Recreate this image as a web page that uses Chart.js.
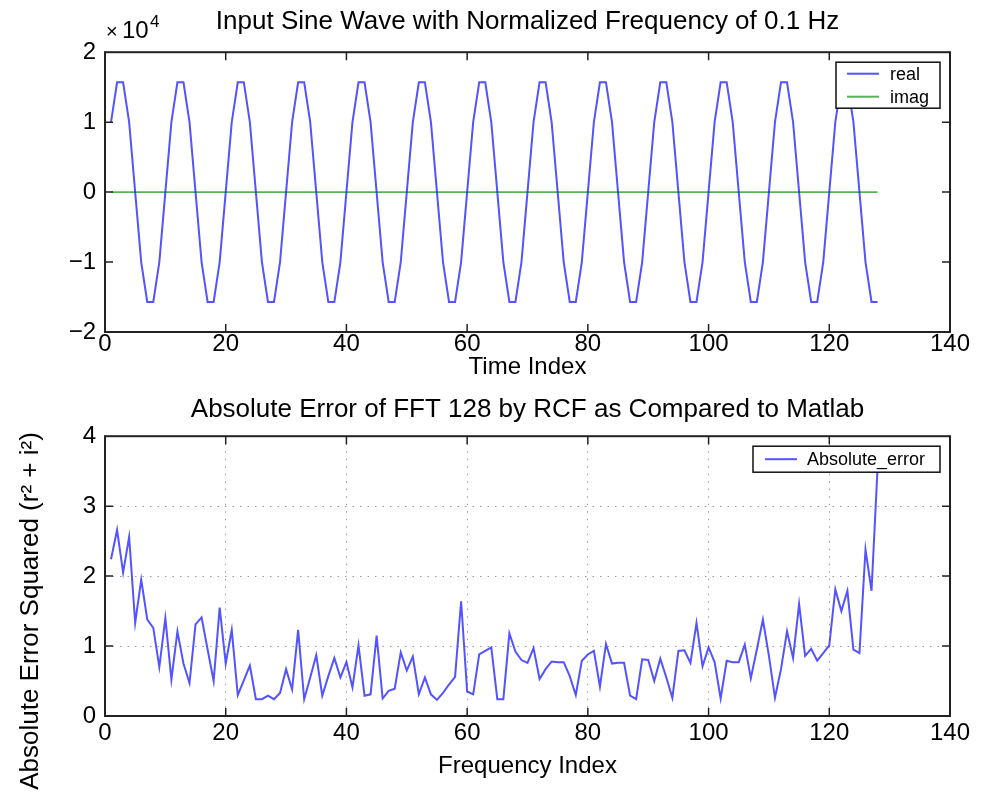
<!DOCTYPE html>
<html>
<head>
<meta charset="utf-8">
<script src="https://cdn.jsdelivr.net/npm/chart.js@4.4.1/dist/chart.umd.min.js"></script>
<style>
  html, body { margin: 0; padding: 0; background: #ffffff; }
  #top { position: absolute; left: 0; top: 0; width: 986px; height: 385px; }
  #bot { position: absolute; left: 0; top: 385px; width: 986px; height: 411px; }
</style>
</head>
<body>
<div id="top"><canvas id="c1"></canvas></div>
<div id="bot"><canvas id="c2"></canvas></div>
<script>
// ---------------- DATA ----------------
const topTitle = 'Input Sine Wave with Normalized Frequency of 0.1 Hz';
const topXLabel = 'Time Index';
const topSeriesNames = ['real', 'imag'];
const botTitle = 'Absolute Error of FFT 128 by RCF as Compared to Matlab';
const botXLabel = 'Frequency Index';
const botYLabel = 'Absolute Error Squared (r\u00B2 + i\u00B2)';
const botSeriesNames = ['Absolute_error'];
const xTicks = [0, 20, 40, 60, 80, 100, 120, 140];
const topYTicks = [-2, -1, 0, 1, 2];      // in units of 10^4
const botYTicks = [0, 1, 2, 3, 4];

// real part of input (time index 1..128)
const realPart = [
  10000, 15700, 15700, 10000, 0, -10000, -15700, -15700, -10000, 0,
  10000, 15700, 15700, 10000, 0, -10000, -15700, -15700, -10000, 0,
  10000, 15700, 15700, 10000, 0, -10000, -15700, -15700, -10000, 0,
  10000, 15700, 15700, 10000, 0, -10000, -15700, -15700, -10000, 0,
  10000, 15700, 15700, 10000, 0, -10000, -15700, -15700, -10000, 0,
  10000, 15700, 15700, 10000, 0, -10000, -15700, -15700, -10000, 0,
  10000, 15700, 15700, 10000, 0, -10000, -15700, -15700, -10000, 0,
  10000, 15700, 15700, 10000, 0, -10000, -15700, -15700, -10000, 0,
  10000, 15700, 15700, 10000, 0, -10000, -15700, -15700, -10000, 0,
  10000, 15700, 15700, 10000, 0, -10000, -15700, -15700, -10000, 0,
  10000, 15700, 15700, 10000, 0, -10000, -15700, -15700, -10000, 0,
  10000, 15700, 15700, 10000, 0, -10000, -15700, -15700, -10000, 0,
  10000, 15700, 15700, 10000, 0, -10000, -15700, -15700
];
// imaginary part of input (time index 1..128)
const imagPart = [
  0,0,0,0,0,0,0,0,0,0, 0,0,0,0,0,0,0,0,0,0, 0,0,0,0,0,0,0,0,0,0,
  0,0,0,0,0,0,0,0,0,0, 0,0,0,0,0,0,0,0,0,0, 0,0,0,0,0,0,0,0,0,0,
  0,0,0,0,0,0,0,0,0,0, 0,0,0,0,0,0,0,0,0,0, 0,0,0,0,0,0,0,0,0,0,
  0,0,0,0,0,0,0,0,0,0, 0,0,0,0,0,0,0,0,0,0, 0,0,0,0,0,0,0,0,0,0,
  0,0,0,0,0,0,0,0
];
// absolute error squared (frequency index 1..128)
const absError = [
  2.24, 2.66, 2.05, 2.56, 1.33, 1.95, 1.38, 1.26, 0.70, 1.40,
  0.52, 1.21, 0.75, 0.47, 1.31, 1.41, 0.95, 0.50, 1.55, 0.75,
  1.23, 0.30, 0.51, 0.72, 0.24, 0.24, 0.29, 0.24, 0.33, 0.67,
  0.38, 1.23, 0.24, 0.55, 0.87, 0.29, 0.57, 0.83, 0.55, 0.77,
  0.41, 1.01, 0.29, 0.31, 1.15, 0.25, 0.36, 0.39, 0.91, 0.65,
  0.85, 0.31, 0.55, 0.31, 0.23, 0.33, 0.45, 0.56, 1.64, 0.35,
  0.31, 0.88, 0.93, 0.98, 0.24, 0.24, 1.18, 0.92, 0.80, 0.76,
  0.97, 0.53, 0.67, 0.78, 0.77, 0.77, 0.57, 0.30, 0.79, 0.88,
  0.93, 0.42, 1.03, 0.75, 0.76, 0.76, 0.29, 0.24, 0.81, 0.80,
  0.50, 0.82, 0.55, 0.26, 0.93, 0.94, 0.76, 1.33, 0.71, 0.98,
  0.77, 0.25, 0.79, 0.77, 0.77, 1.02, 0.54, 0.95, 1.38, 0.86,
  0.26, 0.67, 1.21, 0.83, 1.60, 0.86, 0.96, 0.79, 0.90, 1.01,
  1.81, 1.50, 1.79, 0.95, 0.90, 2.38, 1.79, 3.55
];

// ---------------- STYLE / HELPERS ----------------
const FONT = '"Liberation Sans", Arial, Helvetica, sans-serif';
Chart.defaults.font.family = FONT;
Chart.defaults.color = '#000';

const BLUE = 'rgba(35,35,255,0.78)';
const GREEN = 'rgba(60,165,60,0.85)';

const toPoints = (arr) => arr.map((v, i) => ({ x: i + 1, y: v }));
const minusFmt = (n) => (n < 0 ? '\u2212' + Math.abs(n) : String(n));

const framePlugin = {
  id: 'frame',
  afterDraw(chart) {
    const { ctx, chartArea: a, scales: { x, y } } = chart;
    const L = 8;
    ctx.save();
    ctx.strokeStyle = '#222';
    ctx.lineWidth = 1.5;
    ctx.beginPath();
    x.ticks.forEach(t => {
      const p = x.getPixelForValue(t.value);
      if (p > a.left + 2 && p < a.right - 2) {
        ctx.moveTo(p, a.bottom); ctx.lineTo(p, a.bottom - L);
        ctx.moveTo(p, a.top); ctx.lineTo(p, a.top + L);
      }
    });
    y.ticks.forEach(t => {
      const p = y.getPixelForValue(t.value);
      if (p > a.top + 2 && p < a.bottom - 2) {
        ctx.moveTo(a.left, p); ctx.lineTo(a.left + L, p);
        ctx.moveTo(a.right, p); ctx.lineTo(a.right - L, p);
      }
    });
    ctx.stroke();
    ctx.lineWidth = 2;
    ctx.strokeRect(a.left, a.top, a.right - a.left, a.bottom - a.top);
    ctx.restore();
  }
};

const boxLegendPlugin = {
  id: 'boxLegend',
  afterDraw(chart, args, opts) {
    const { ctx, chartArea: a } = chart;
    const bx = a.right - opts.right - opts.width;
    const by = a.top + opts.top;
    ctx.save();
    ctx.fillStyle = '#fff';
    ctx.fillRect(bx, by, opts.width, opts.height);
    ctx.strokeStyle = '#111';
    ctx.lineWidth = 1.5;
    ctx.strokeRect(bx, by, opts.width, opts.height);
    ctx.font = opts.fontSize + 'px ' + FONT;
    ctx.textBaseline = 'middle';
    ctx.textAlign = 'left';
    chart.data.datasets.forEach((ds, i) => {
      const ry = by + opts.firstRow + i * opts.rowStep;
      ctx.strokeStyle = ds.borderColor;
      ctx.lineWidth = 2;
      ctx.beginPath();
      ctx.moveTo(bx + opts.lineStart, ry);
      ctx.lineTo(bx + opts.lineEnd, ry);
      ctx.stroke();
      ctx.fillStyle = '#000';
      ctx.fillText(ds.label, bx + opts.textX, ry + 1);
    });
    ctx.restore();
  }
};

const exponentPlugin = {
  id: 'exponent',
  afterDraw(chart) {
    const { ctx, chartArea: a } = chart;
    ctx.save();
    ctx.fillStyle = '#000';
    ctx.textBaseline = 'alphabetic';
    ctx.textAlign = 'left';
    ctx.font = '20px ' + FONT;
    ctx.fillText('\u00D7', a.left + 1, a.top - 14);
    ctx.font = '24px ' + FONT;
    ctx.fillText('10', a.left + 17, a.top - 14);
    ctx.font = '17px ' + FONT;
    ctx.fillText('4', a.left + 45, a.top - 25);
    ctx.restore();
  }
};

const yTitlePlugin = {
  id: 'yTitle',
  afterDraw(chart, args, opts) {
    const { ctx } = chart;
    ctx.save();
    ctx.translate(opts.x, opts.y);
    ctx.rotate(-Math.PI / 2);
    ctx.fillStyle = '#000';
    ctx.font = opts.size + 'px ' + FONT;
    ctx.textAlign = 'center';
    ctx.textBaseline = 'middle';
    ctx.fillText(opts.text, 0, 0);
    ctx.restore();
  }
};

function xScale(label, tickPad, titlePadBottom, height, grid) {
  return {
    type: 'linear',
    min: xTicks[0], max: xTicks[xTicks.length - 1],
    afterBuildTicks: (s) => { s.ticks = xTicks.map(v => ({ value: v })); },
    ticks: { font: { size: 24, lineHeight: 1 }, padding: tickPad, maxRotation: 0, autoSkip: false, color: '#000' },
    grid: grid ? { display: true, color: '#9a9a9a', lineWidth: 1, drawTicks: false } : { display: false, drawTicks: false },
    border: grid ? { display: false, dash: [1.5, 6] } : { display: false },
    title: { display: true, text: label, font: { size: 24, lineHeight: 1.2 }, color: '#000', padding: { top: 0, bottom: titlePadBottom } },
    afterFit: (s) => { s.height = height; }
  };
}

// ---------------- TOP CHART ----------------
new Chart(document.getElementById('c1'), {
  type: 'line',
  data: {
    datasets: [
      { label: topSeriesNames[0], data: toPoints(realPart), borderColor: BLUE, borderWidth: 2, pointRadius: 0, tension: 0 },
      { label: topSeriesNames[1], data: toPoints(imagPart), borderColor: GREEN, borderWidth: 1.8, pointRadius: 0, tension: 0 }
    ]
  },
  options: {
    responsive: true, maintainAspectRatio: false, animation: false, devicePixelRatio: 1,
    parsing: false,
    layout: { padding: { left: 0, right: 36, top: 0, bottom: 0 } },
    plugins: {
      legend: { display: false },
      tooltip: { enabled: false },
      title: { display: true, fullSize: false, text: topTitle, color: '#000', font: { size: 26, weight: 'normal', lineHeight: 1.2 }, padding: { top: 6, bottom: 15 } },
      boxLegend: { right: 10, top: 10, width: 104, height: 46, firstRow: 11.5, rowStep: 23, lineStart: 11, lineEnd: 43, textX: 54, fontSize: 18 }
    },
    scales: {
      x: xScale(topXLabel, 0, 3, 53, false),
      y: {
        type: 'linear', min: -20000, max: 20000,
        afterBuildTicks: (s) => { s.ticks = topYTicks.map(v => ({ value: v * 10000 })); },
        ticks: { font: { size: 24 }, padding: 9, color: '#000', callback: (v) => minusFmt(v / 10000) },
        grid: { display: false, drawTicks: false },
        border: { display: false },
        afterFit: (s) => { s.width = 105; }
      }
    }
  },
  plugins: [framePlugin, boxLegendPlugin, exponentPlugin]
});

// ---------------- BOTTOM CHART ----------------
new Chart(document.getElementById('c2'), {
  type: 'line',
  data: {
    datasets: [
      { label: botSeriesNames[0], data: toPoints(absError), borderColor: BLUE, borderWidth: 2, pointRadius: 0, tension: 0 }
    ]
  },
  options: {
    responsive: true, maintainAspectRatio: false, animation: false, devicePixelRatio: 1,
    parsing: false,
    layout: { padding: { left: 0, right: 36, top: 0, bottom: 0 } },
    plugins: {
      legend: { display: false },
      tooltip: { enabled: false },
      title: { display: true, fullSize: false, text: botTitle, color: '#000', font: { size: 26, weight: 'normal', lineHeight: 1.2 }, padding: { top: 9, bottom: 11 } },
      boxLegend: { right: 10, top: 10, width: 187, height: 26, firstRow: 13, rowStep: 23, lineStart: 12, lineEnd: 44, textX: 54, fontSize: 18 },
      yTitle: { x: 31, y: 226, size: 26, text: botYLabel }
    },
    scales: {
      x: xScale(botXLabel, 5, 15, 80, true),
      y: {
        type: 'linear', min: 0, max: 4,
        afterBuildTicks: (s) => { s.ticks = botYTicks.map(v => ({ value: v })); },
        ticks: { font: { size: 24 }, padding: 9, color: '#000' },
        grid: { display: true, color: '#9a9a9a', lineWidth: 1, drawTicks: false },
        border: { display: false, dash: [1.5, 6] },
        afterFit: (s) => { s.width = 105; }
      }
    }
  },
  plugins: [framePlugin, boxLegendPlugin, yTitlePlugin]
});
</script>
</body>
</html>
